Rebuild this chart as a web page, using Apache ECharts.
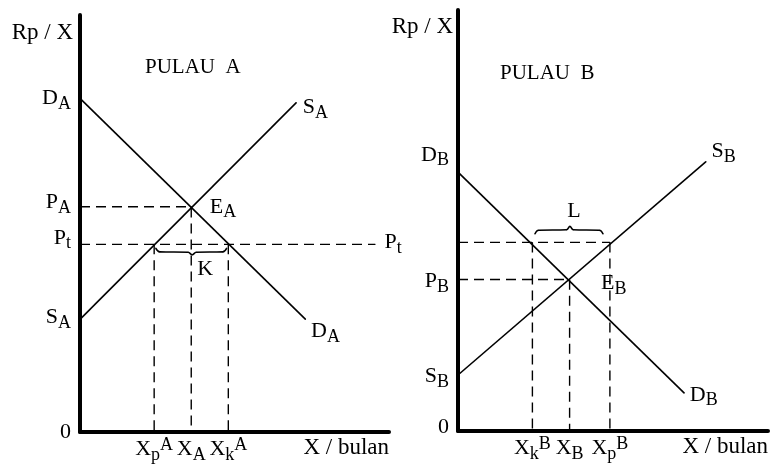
<!DOCTYPE html>
<html>
<head>
<meta charset="utf-8">
<script src="https://cdn.jsdelivr.net/npm/echarts@6/dist/echarts.min.js"></script>
<style>
  html, body { margin: 0; padding: 0; background: #fff; }
  #chart { width: 772px; height: 467px; }
</style>
</head>
<body>
<div id="chart"></div>
<script>
// PULAU A
const demandA = [[0, 80], [73, 27]]
const supplyA = [[0, 27], [70, 79]]
const eqA = [36, 54]
const ptA = 45
const xpA = 24
const xkA = 48
const ptEndA = 95.5
const braceK = [[24.5, 44.1], [25.8, 43.2], [35, 43.1], [36.3, 42.5], [37.6, 43.1], [46.2, 43.2], [47.5, 44.1]]
const yTicksA = [0, 27.5, 46.5, 55, 80]
const yLabelsA = ['0', 'S_A', 'P_t', 'P_A', 'D_A']
const xTicksA = [24, 36, 48]
const xLabelsA = ['X_p^A', 'X_A', 'X_k^A']

// PULAU B
const demandB = [[0, 61.5], [73, 9]]
const supplyB = [[0, 13.3], [80, 64]]
const eqB = [36, 36]
const ptB = 44.8
const xkB = 24
const xpB = 49
const braceL = [[24.8, 46.8], [26, 47.7], [35, 47.8], [36.1, 48.6], [37.2, 47.8], [45.6, 47.7], [46.8, 46.8]]
const yTicksB = [0.8, 13, 35.5, 65.5]
const yLabelsB = ['0', 'S_B', 'P_B', 'D_B']
const xTicksB = [24, 36, 49]
const xLabelsB = ['X_k^B', 'X_B', 'X_p^B']

const FONT = 'Liberation Serif'
const rich = {
  m: { fontFamily: FONT, fontSize: 22, color: '#000' },
  s: { fontFamily: FONT, fontSize: 18, color: '#000', padding: [11, 0, 0, 0] },
  u: { fontFamily: FONT, fontSize: 18, color: '#000', padding: [0, 0, 8, 0] }
}

// 'X_p^A' -> X, subscript p, raised A
function rt(s) {
  const m = s.match(/^([^_^]+)(?:_([^_^]+))?(?:\^(.+))?$/)
  let out = '{m|' + m[1] + '}'
  if (m[2]) out += '{s|' + m[2] + '}'
  if (m[3]) out += '{u|' + m[3] + '}'
  return out
}

function pick(ticks, labels) {
  return function (v) {
    let best = 0
    ticks.forEach((t, i) => {
      if (Math.abs(t - v) < Math.abs(ticks[best] - v)) best = i
    })
    return rt(labels[best])
  }
}

function withLabel(data, idx, text, position, distance, offset) {
  return data.map((d, i) => {
    if (i !== idx) return d
    return {
      value: d,
      label: {
        show: true,
        formatter: () => rt(text),
        position: position,
        distance: distance,
        offset: offset,
        rich: rich
      }
    }
  })
}

function line(axis, data, dashed, extra) {
  return Object.assign({
    type: 'line',
    xAxisIndex: axis,
    yAxisIndex: axis,
    data: data,
    symbol: 'circle',
    symbolSize: 1,
    silent: true,
    animation: false,
    label: { show: false },
    itemStyle: { color: '#000' },
    lineStyle: {
      color: '#000',
      width: dashed ? 1.4 : 1.6,
      type: dashed ? [10, 6] : 'solid'
    }
  }, extra || {})
}

function xAxis(grid, ticks, labels, margin, padTop) {
  return {
    gridIndex: grid,
    type: 'value',
    min: 0,
    max: 100,
    axisLine: { show: true, lineStyle: { color: '#000', width: 4 } },
    axisTick: { show: false },
    splitLine: { show: false },
    axisLabel: {
      customValues: ticks,
      formatter: pick(ticks, labels),
      rich: rich,
      margin: margin
    },
    name: 'X / bulan',
    nameLocation: 'end',
    nameGap: 0,
    nameMoveOverlap: false,
    nameTextStyle: {
      fontFamily: FONT, fontSize: 23, color: '#000',
      align: 'right', verticalAlign: 'top', padding: [padTop, 0, 0, 0]
    }
  }
}

function yAxis(grid, ticks, labels, gap, padRight) {
  return {
    gridIndex: grid,
    type: 'value',
    min: 0,
    max: 100,
    axisLine: { show: true, lineStyle: { color: '#000', width: 4 } },
    axisTick: { show: false },
    splitLine: { show: false },
    axisLabel: {
      customValues: ticks,
      formatter: pick(ticks, labels),
      rich: rich,
      margin: 9
    },
    name: 'Rp / X',
    nameLocation: 'end',
    nameGap: gap,
    nameMoveOverlap: false,
    nameTextStyle: {
      fontFamily: FONT, fontSize: 23, color: '#000',
      align: 'right', verticalAlign: 'middle', padding: [0, padRight, 0, 0]
    }
  }
}

const chart = echarts.init(document.getElementById('chart'))
chart.setOption({
  backgroundColor: '#fff',
  animation: false,
  title: [
    { text: 'PULAU  A', left: 145, top: 57, padding: 0,
      textStyle: { fontFamily: FONT, fontSize: 21, fontWeight: 'normal', color: '#000' } },
    { text: 'PULAU  B', left: 500, top: 63, padding: 0,
      textStyle: { fontFamily: FONT, fontSize: 21, fontWeight: 'normal', color: '#000' } }
  ],
  grid: [
    { left: 80, top: 15, width: 309, height: 417, outerBoundsMode: 'none' },
    { left: 458, top: 10, width: 310, height: 421, outerBoundsMode: 'none' }
  ],
  xAxis: [
    xAxis(0, xTicksA, xLabelsA, 3, 4),
    xAxis(1, xTicksB, xLabelsB, 3, 4)
  ],
  yAxis: [
    yAxis(0, yTicksA, yLabelsA, -18, 7),
    yAxis(1, yTicksB, yLabelsB, -17, 5)
  ],
  series: [
    // Pulau A
    line(0, withLabel(demandA, 1, 'D_A', 'right', 5, [0, 12])),
    line(0, withLabel(supplyA, 1, 'S_A', 'right', 6, [0, 5])),
    line(0, withLabel([[0, eqA[1]], eqA, [eqA[0], 0]], 1, 'E_A', 'right', 18, [0, 0]), true),
    line(0, withLabel([[0, ptA], [ptEndA, ptA]], 1, 'P_t', 'right', 9, [0, -2]), true),
    line(0, [[xpA, ptA], [xpA, 0]], true),
    line(0, [[xkA, ptA], [xkA, 0]], true),
    line(0, withLabel(braceK, 3, 'K', 'bottom', 3, [13, 0]), false, { smooth: 0.4 }),
    // Pulau B
    line(1, withLabel(demandB, 1, 'D_B', 'right', 5, [0, 2])),
    line(1, withLabel(supplyB, 1, 'S_B', 'right', 5, [0, -10])),
    line(1, withLabel([[0, eqB[1]], eqB, [eqB[0], 0]], 1, 'E_B', 'right', 31, [0, 4]), true),
    line(1, [[0, ptB], [xpB, ptB]], true),
    line(1, [[xkB, ptB], [xkB, 0]], true),
    line(1, [[xpB, ptB], [xpB, 0]], true),
    line(1, withLabel(braceL, 3, 'L', 'top', 4, [4, 0]), false, { smooth: 0.4 })
  ]
})
</script>
</body>
</html>
